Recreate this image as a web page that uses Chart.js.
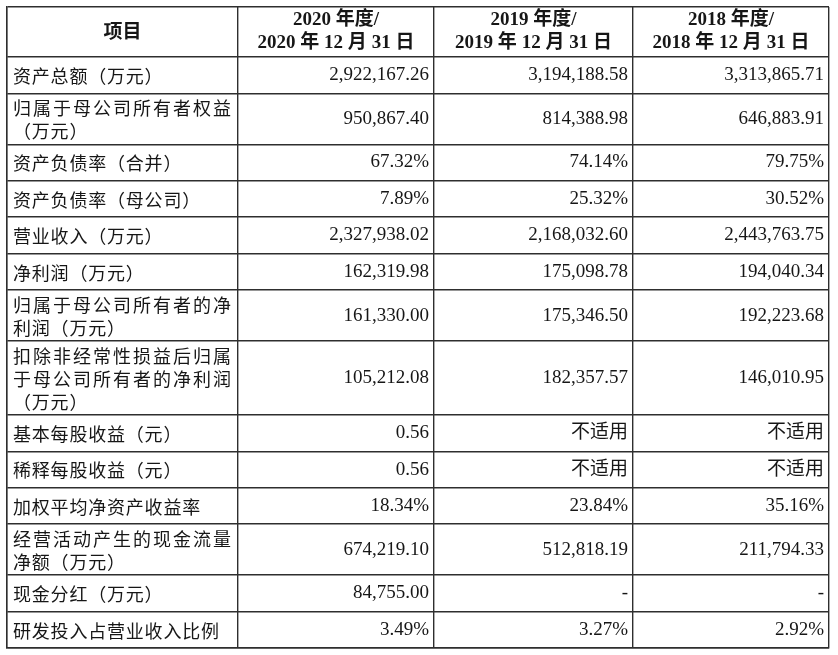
<!DOCTYPE html>
<html>
<head>
<meta charset="utf-8">
<script src="https://cdn.jsdelivr.net/npm/chart.js@4.4.1/dist/chart.umd.min.js"></script>
<style>
  html, body { margin: 0; padding: 0; background: #ffffff; }
  #wrap { position: relative; width: 838px; height: 655px; }
</style>
</head>
<body>
<div id="wrap"><canvas id="c"></canvas></div>
<script>
// ---------- data ----------
const headerTitle = "项目";
const periodHeaders = [
  "2020 年度/\n2020 年 12 月 31 日",
  "2019 年度/\n2019 年 12 月 31 日",
  "2018 年度/\n2018 年 12 月 31 日"
];
const items = [
  "资产总额（万元）",
  "归属于母公司所有者权益\n（万元）",
  "资产负债率（合并）",
  "资产负债率（母公司）",
  "营业收入（万元）",
  "净利润（万元）",
  "归属于母公司所有者的净\n利润（万元）",
  "扣除非经常性损益后归属\n于母公司所有者的净利润\n（万元）",
  "基本每股收益（元）",
  "稀释每股收益（元）",
  "加权平均净资产收益率",
  "经营活动产生的现金流量\n净额（万元）",
  "现金分红（万元）",
  "研发投入占营业收入比例"
];
const rowFormats = ["num","num","pct","pct","num","num","num","num","num","num","pct","num","num","pct"];
const naTexts = ["","","","","","","","","不适用","不适用","","","-",""];
const values2020 = [2922167.26, 950867.40, 67.32, 7.89, 2327938.02, 162319.98, 161330.00, 105212.08, 0.56, 0.56, 18.34, 674219.10, 84755.00, 3.49];
const values2019 = [3194188.58, 814388.98, 74.14, 25.32, 2168032.60, 175098.78, 175346.50, 182357.57, null, null, 23.84, 512818.19, null, 3.27];
const values2018 = [3313865.71, 646883.91, 79.75, 30.52, 2443763.75, 194040.34, 192223.68, 146010.95, null, null, 35.16, 211794.33, null, 2.92];
const seriesValues = [values2020, values2019, values2018];

// ---------- layout (not data) ----------
const COL_W = [231, 196, 199, 196];
const LINE_H = 23;
const HEADER_H = 50;
const LINE_COLOR = '#2e2e2e';
const TEXT_COLOR = '#161616';
const FONT_CJK = '"Noto Sans CJK SC"';
const FONT_MIX = '"Liberation Serif", "Noto Sans CJK SC"';

function rowHeight(text) {
  const n = text.split("\n").length;
  return n === 1 ? 36.5 : n * LINE_H + 5;
}
const colBounds = [0];
COL_W.forEach(w => colBounds.push(colBounds[colBounds.length - 1] + w));
const rowBounds = [0, HEADER_H];
items.forEach(t => rowBounds.push(rowBounds[rowBounds.length - 1] + rowHeight(t)));
const totalW = colBounds[colBounds.length - 1];
const totalH = rowBounds[rowBounds.length - 1];

function fmt(v, f, na) {
  if (v === null || v === undefined) return na;
  const s = v.toLocaleString('en-US', { minimumFractionDigits: 2, maximumFractionDigits: 2 });
  return f === 'pct' ? s + '%' : s;
}

const datasets = seriesValues.map((vals, j) => ({
  label: periodHeaders[j],
  data: vals.map((v, i) => ({
    x: colBounds[j + 2] - 5,
    y: (rowBounds[i + 1] + rowBounds[i + 2]) / 2,
    text: fmt(v, rowFormats[i], naTexts[i])
  })),
  pointRadius: 0,
  pointHoverRadius: 0,
  showLine: false
}));

function drawSpaced(ctx, text, x, y, spacing) {
  let cx = x;
  for (const ch of [...text]) {
    ctx.fillText(ch, cx, y);
    cx += ctx.measureText(ch).width + spacing;
  }
}
function drawJustified(ctx, text, x0, x1, y) {
  const chars = [...text];
  const ws = chars.map(c => ctx.measureText(c).width);
  const tot = ws.reduce((a, b) => a + b, 0);
  const gap = chars.length > 1 ? (x1 - x0 - tot) / (chars.length - 1) : 0;
  let cx = x0;
  chars.forEach((c, k) => { ctx.fillText(c, cx, y); cx += ws[k] + gap; });
}

const tablePlugin = {
  id: 'tableText',
  afterDatasetsDraw(chart) {
    const ctx = chart.ctx;
    const xs = chart.scales.x, ys = chart.scales.y;
    ctx.save();
    ctx.fillStyle = TEXT_COLOR;
    ctx.textBaseline = 'middle';

    // header
    const hy = ys.getPixelForValue(HEADER_H / 2);
    ctx.font = 'bold 19px ' + FONT_MIX;
    ctx.textAlign = 'center';
    ctx.fillText(headerTitle, xs.getPixelForValue(colBounds[1] / 2), hy + 1);
    periodHeaders.forEach((h, j) => {
      const cx = xs.getPixelForValue((colBounds[j + 1] + colBounds[j + 2]) / 2);
      const lines = h.split("\n");
      lines.forEach((ln, k) => {
        const y = hy + (k - (lines.length - 1) / 2) * LINE_H;
        ctx.fillText(ln, cx, y);
      });
    });

    // item labels
    ctx.font = '18px ' + FONT_CJK;
    ctx.textAlign = 'left';
    const lx0 = xs.getPixelForValue(colBounds[0]) + 6;
    const lx1 = xs.getPixelForValue(colBounds[1]) - 7;
    items.forEach((t, i) => {
      const cy = ys.getPixelForValue((rowBounds[i + 1] + rowBounds[i + 2]) / 2) + 1;
      const lines = t.split("\n");
      lines.forEach((ln, k) => {
        const y = cy + (k - (lines.length - 1) / 2) * LINE_H;
        if (k < lines.length - 1) drawJustified(ctx, ln, lx0, lx1, y);
        else drawSpaced(ctx, ln, lx0, y, 0.8);
      });
    });

    // values
    ctx.font = '19px ' + FONT_MIX;
    ctx.textAlign = 'right';
    chart.data.datasets.forEach((ds, j) => {
      const meta = chart.getDatasetMeta(j);
      meta.data.forEach((el, i) => {
        ctx.fillText(ds.data[i].text, el.x, el.y);
      });
    });
    ctx.restore();
  }
};

new Chart(document.getElementById('c'), {
  type: 'scatter',
  data: { datasets },
  options: {
    responsive: true,
    maintainAspectRatio: false,
    animation: false,
    events: [],
    layout: { padding: { left: 7, top: 7, right: 9, bottom: 7 } },
    plugins: { legend: { display: false }, tooltip: { enabled: false } },
    scales: {
      x: {
        type: 'linear', min: 0, max: totalW, position: 'bottom',
        afterBuildTicks: s => { s.ticks = colBounds.map(v => ({ value: v })); },
        ticks: { display: false },
        grid: { color: LINE_COLOR, lineWidth: 1.4, drawTicks: false },
        border: { display: true, color: LINE_COLOR, width: 1.4 }
      },
      y: {
        type: 'linear', min: 0, max: totalH, reverse: true,
        afterBuildTicks: s => { s.ticks = rowBounds.map(v => ({ value: v })); },
        ticks: { display: false },
        grid: { color: LINE_COLOR, lineWidth: 1.4, drawTicks: false },
        border: { display: true, color: LINE_COLOR, width: 1.4 }
      }
    }
  },
  plugins: [tablePlugin]
});
</script>
</body>
</html>
